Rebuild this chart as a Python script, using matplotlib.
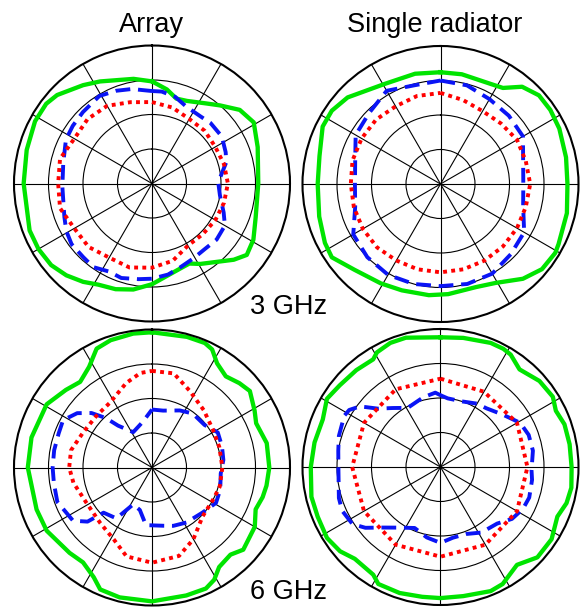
import numpy as np
import matplotlib
matplotlib.use("Agg")
import matplotlib.pyplot as plt

plt.rcParams['font.family'] = ['Liberation Sans', 'DejaVu Sans']

# ---- data: radiation pattern, angle (deg, clockwise from top) and normalised radius ----
# Array, 3 GHz
a3_green_deg = [0, 9, 16, 23, 34, 41, 50, 59, 71, 90, 108, 119, 127, 133, 149, 155, 162, 180,
                190, 199, 208, 215, 223, 231, 240, 249, 270, 285, 298, 307, 313, 325, 333, 350]
a3_green_r = [0.74, 0.69, 0.64, 0.65, 0.70, 0.75, 0.83, 0.86, 0.81, 0.77, 0.79, 0.84, 0.86, 0.81,
              0.68, 0.64, 0.65, 0.73, 0.78, 0.81, 0.83, 0.87, 0.91, 0.94, 0.95, 0.95, 0.93, 0.94,
              0.96, 0.96, 0.94, 0.87, 0.83, 0.77]
a3_blue_deg = [0, 6, 15, 24, 36, 44, 56, 67, 74, 82, 89, 100, 112, 120, 131, 141, 151, 161, 170,
               180, 188, 198, 206, 215, 223, 233, 241, 249, 268, 283, 297, 306, 316, 329, 339, 348]
a3_blue_r = [0.67, 0.67, 0.65, 0.61, 0.60, 0.61, 0.61, 0.58, 0.56, 0.51, 0.48, 0.50, 0.56, 0.61,
             0.62, 0.61, 0.62, 0.64, 0.67, 0.69, 0.70, 0.72, 0.71, 0.74, 0.73, 0.73, 0.71, 0.68,
             0.65, 0.66, 0.70, 0.71, 0.72, 0.74, 0.72, 0.70]
a3_red_deg = list(range(0, 360, 15))
a3_red_r = [0.59, 0.57, 0.54, 0.54, 0.53, 0.54, 0.55, 0.54, 0.53, 0.52, 0.52, 0.58,
            0.61, 0.63, 0.62, 0.65, 0.65, 0.69, 0.68, 0.69, 0.65, 0.66, 0.65, 0.61]

# Single radiator, 3 GHz
s3_green_deg = [0, 11, 26, 33, 40, 48, 56, 65, 78, 90, 103, 117, 121, 130, 139, 151, 161, 176,
                186, 200, 211, 225, 236, 243, 255, 270, 283, 296, 304, 313, 331, 347]
s3_green_r = [0.81, 0.81, 0.81, 0.83, 0.92, 0.96, 0.96, 0.95, 0.93, 0.92, 0.94, 0.96, 0.97,
              0.96, 0.91, 0.82, 0.79, 0.80, 0.81, 0.82, 0.84, 0.88, 0.95, 0.94, 0.91, 0.89,
              0.90, 0.95, 0.95, 0.92, 0.83, 0.82]
s3_blue_deg = list(range(0, 360, 15))
s3_blue_r = [0.75, 0.74, 0.71, 0.70, 0.69, 0.62, 0.60, 0.62, 0.70, 0.72, 0.75, 0.75,
             0.74, 0.75, 0.76, 0.75, 0.73, 0.64, 0.62, 0.64, 0.71, 0.73, 0.78, 0.74]
s3_red_deg = list(range(0, 360, 15))
s3_red_r = [0.66, 0.63, 0.61, 0.62, 0.64, 0.64, 0.65, 0.64, 0.64, 0.64, 0.64, 0.64,
            0.64, 0.64, 0.64, 0.65, 0.65, 0.65, 0.65, 0.66, 0.66, 0.66, 0.65, 0.66]

# Array, 6 GHz
a6_green_deg = [0, 15, 23, 27, 32, 39, 46, 52, 61, 67, 78, 90, 99, 105, 112, 120, 132, 138, 146,
                151, 156, 165, 180, 194, 203, 208, 216, 224, 239, 250, 270, 284, 301, 312, 320,
                328, 335, 342, 352]
a6_green_r = [0.98, 0.98, 0.98, 0.96, 0.89, 0.85, 0.88, 0.90, 0.85, 0.82, 0.85, 0.85, 0.84,
              0.83, 0.81, 0.86, 0.89, 0.85, 0.87, 0.93, 0.96, 0.96, 0.97, 0.97, 0.96, 0.90,
              0.85, 0.86, 0.89, 0.89, 0.90, 0.90, 0.89, 0.84, 0.81, 0.86, 0.95, 0.97, 0.98]
a6_blue_deg = [0, 11, 26, 37, 51, 62, 73, 84, 95, 108, 119, 132, 148, 160, 169, 186, 196, 207,
               215, 227, 230, 236, 250, 261, 270, 280, 290, 298, 306, 312, 317, 321, 332, 344, 349]
a6_blue_r = [0.42, 0.42, 0.46, 0.49, 0.49, 0.54, 0.53, 0.52, 0.50, 0.52, 0.53, 0.49, 0.47,
             0.45, 0.43, 0.42, 0.32, 0.30, 0.45, 0.48, 0.61, 0.69, 0.73, 0.72, 0.72, 0.72,
             0.72, 0.73, 0.67, 0.59, 0.49, 0.39, 0.29, 0.32, 0.34]
a6_red_deg = [0, 13, 26, 42, 58, 73, 90, 106, 118, 134, 150, 163, 180, 196, 208, 223, 242, 259,
              270, 282, 297, 313, 327, 343, 353]
a6_red_r = [0.70, 0.70, 0.62, 0.56, 0.52, 0.51, 0.51, 0.51, 0.50, 0.51, 0.60, 0.67, 0.69,
            0.67, 0.59, 0.55, 0.54, 0.58, 0.60, 0.60, 0.56, 0.55, 0.56, 0.64, 0.69]

# Single radiator, 6 GHz
s6_green_deg = [0, 10, 22, 28, 32, 39, 49, 58, 64, 71, 80, 90, 99, 106, 113, 123, 133, 142,
                152, 158, 170, 180, 188, 198, 208, 212, 223, 230, 238, 248, 257, 270, 281, 292,
                301, 309, 319, 328, 331, 338, 345]
s6_green_r = [0.94, 0.95, 0.97, 0.97, 0.96, 0.91, 0.95, 0.96, 0.93, 0.95, 0.95, 0.95, 0.96,
              0.95, 0.92, 0.96, 0.96, 0.90, 0.96, 0.97, 0.95, 0.95, 0.95, 0.96, 0.96, 0.92,
              0.91, 0.95, 0.97, 0.96, 0.96, 0.94, 0.93, 0.92, 0.96, 0.94, 0.93, 0.92, 0.95,
              0.97, 0.97]
s6_blue_deg = [0, 6, 18, 30, 38, 50, 61, 70, 80, 92, 98, 109, 117, 126, 135, 148, 159, 170, 180,
               191, 203, 214, 224, 231, 237, 246, 253, 268, 279, 287, 298, 302, 307, 313, 321,
               331, 346, 356]
s6_blue_r = [0.52, 0.50, 0.50, 0.53, 0.54, 0.59, 0.66, 0.68, 0.68, 0.66, 0.67, 0.68, 0.67,
             0.64, 0.58, 0.56, 0.52, 0.52, 0.55, 0.52, 0.48, 0.53, 0.61, 0.70, 0.76, 0.78,
             0.77, 0.74, 0.75, 0.77, 0.79, 0.78, 0.73, 0.62, 0.55, 0.49, 0.52, 0.54]
s6_red_deg = list(range(0, 360, 30))
s6_red_r = [0.64, 0.63, 0.64, 0.63, 0.64, 0.65, 0.65, 0.65, 0.64, 0.64, 0.64, 0.65]

panels = [
    # centre x, centre y (pixels from top-left), curves
    (152, 183.5, [(a3_green_deg, a3_green_r), (a3_blue_deg, a3_blue_r), (a3_red_deg, a3_red_r)]),
    (440.5, 184, [(s3_green_deg, s3_green_r), (s3_blue_deg, s3_blue_r), (s3_red_deg, s3_red_r)]),
    (152, 467.5, [(a6_green_deg, a6_green_r), (a6_blue_deg, a6_blue_r), (a6_red_deg, a6_red_r)]),
    (440.5, 467, [(s6_green_deg, s6_green_r), (s6_blue_deg, s6_blue_r), (s6_red_deg, s6_red_r)]),
]

W, H = 586, 608
R = 138
fig = plt.figure(figsize=(W / 100, H / 100), dpi=100)

styles = [
    dict(color='#00e400', lw=3.1, ls='-'),
    dict(color='#0a14f5', lw=2.8, ls=(0, (3.8, 2.0)), dash_capstyle='butt'),
    dict(color='#ff0000', lw=2.8, ls=(0, (1.0, 1.1)), dash_capstyle='butt'),
]

for cx, cy, curves in panels:
    ax = fig.add_axes([(cx - R) / W, (H - cy - R) / H, 2 * R / W, 2 * R / H],
                      projection='polar')
    ax.set_theta_zero_location('N')
    ax.set_theta_direction(-1)
    for (deg, r), st in zip(curves, styles):
        th = np.deg2rad(np.append(deg, deg[0]))
        rr = np.append(r, r[0])
        ax.plot(th, rr, **st)
    ax.set_ylim(0, 1)
    ax.set_yticks([0.25, 0.5, 0.75])
    ax.set_xticks(np.deg2rad(np.arange(0, 360, 30)))
    ax.set_yticklabels([])
    ax.set_xticklabels([])
    ax.grid(True, color='black', lw=0.8)
    ax.spines['polar'].set_linewidth(1.5)
    ax.set_facecolor('none')

fs = 19.5
fig.text(152 / W, 1 - 32 / H, 'Array', ha='center', va='baseline', fontsize=fs)
fig.text(435 / W, 1 - 32 / H, 'Single radiator', ha='center', va='baseline', fontsize=fs)
fig.text(288.5 / W, 1 - 314 / H, '3 GHz', ha='center', va='baseline', fontsize=fs)
fig.text(288.5 / W, 1 - 599 / H, '6 GHz', ha='center', va='baseline', fontsize=fs)

fig.savefig('out.png', dpi=100)
